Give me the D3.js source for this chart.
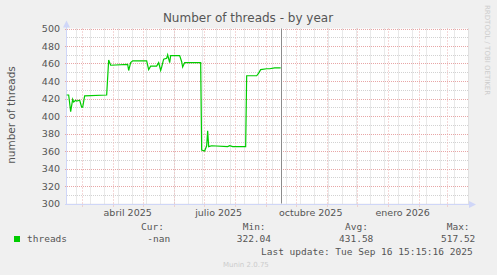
<!DOCTYPE html>
<html>
<head>
<meta charset="utf-8">
<script src="https://cdn.jsdelivr.net/npm/d3@7"></script>
<style>
	body { margin: 0; background: #f0f0f0; }
	text { font-family: "DejaVu Sans", sans-serif; fill: #555; }
	.mono { font-family: "DejaVu Sans Mono", monospace; }
</style>
</head>
<body>
<script>
// thread count samples (date, value)
var dates = [
	'2025-02-14', '2025-02-16', '2025-02-18', '2025-02-20', '2025-02-21', '2025-02-23',
	'2025-02-24', '2025-02-27', '2025-03-01', '2025-03-02', '2025-03-04', '2025-03-26',
	'2025-03-28', '2025-03-30', '2025-04-16', '2025-04-17', '2025-04-19', '2025-04-21',
	'2025-05-05', '2025-05-07', '2025-05-09', '2025-05-15', '2025-05-17', '2025-05-19',
	'2025-05-20', '2025-05-22', '2025-05-25', '2025-05-26', '2025-05-28', '2025-05-29',
	'2025-06-07', '2025-06-09', '2025-06-10', '2025-06-12', '2025-06-28', '2025-06-29',
	'2025-07-02', '2025-07-04', '2025-07-05', '2025-07-06', '2025-07-09', '2025-07-25',
	'2025-07-27', '2025-07-30', '2025-08-12', '2025-08-13', '2025-08-23', '2025-08-25',
	'2025-08-27', '2025-09-02', '2025-09-05', '2025-09-10', '2025-09-16'
]
var threads = [
	424, 424, 405, 419, 416, 418,
	417, 418, 410, 410, 423, 424,
	464, 458, 459, 452, 461, 463,
	463, 453, 457, 457, 461, 452,
	456, 465, 466, 470, 461, 469,
	469, 462, 456, 461, 461, 361,
	360, 366, 383, 365, 366, 365,
	366, 365, 365, 446, 446, 449,
	453, 454, 454, 455, 455
]

var yTicks = [300, 320, 340, 360, 380, 400, 420, 440, 460, 480, 500]
var monthLabels = ['abril 2025', 'julio 2025', 'octubre 2025', 'enero 2026']
var monthLabelDates = ['2025-04-16', '2025-07-16', '2025-10-16', '2026-01-16']

var legendHeads = ['Cur:', 'Min:', 'Avg:', 'Max:']
var legendValues = ['-nan', '322.04', '431.58', '517.52']
var lastUpdate = 'Last update: Tue Sep 16 15:15:16 2025'

var parse = d3.timeParse('%Y-%m-%d')
var data = dates.map((d, i) => ({date: parse(d), value: threads[i]}))

var width = 497,
	height = 275

var start = new Date(2025, 1, 14, 8),
	end = d3.timeDay.offset(start, 401),
	now = new Date(2025, 8, 16, 15, 15, 16)

var x = d3.scaleTime()
	.domain([start, end])
	.range([67, 468])

var y = d3.scaleLinear()
	.domain([300, 500])
	.range([203.5, 28.5])

var svg = d3.select('body').append('svg')
	.attr('width', width)
	.attr('height', height)

svg.append('rect')
	.attr('width', width)
	.attr('height', height)
	.attr('fill', '#f0f0f0')

// canvas
svg.append('rect')
	.attr('x', x.range()[0])
	.attr('y', y.range()[1])
	.attr('width', x.range()[1] - x.range()[0])
	.attr('height', y.range()[0] - y.range()[1])
	.attr('fill', 'white')

var px = v => Math.round(v) + 0.5

// minor grid
var minorX = d3.timeWeek.range(new Date(2025, 1, 23), end, 2)
svg.selectAll('.vminor')
	.data(minorX)
	.enter()
	.append('line')
		.attr('x1', d => px(x(d)))
		.attr('x2', d => px(x(d)))
		.attr('y1', y.range()[1])
		.attr('y2', y.range()[0])
		.attr('stroke', '#d2d2d2')
		.attr('stroke-dasharray', '1,1')

svg.selectAll('.hminor')
	.data(yTicks.slice(0, -1).map(d => d + 10))
	.enter()
	.append('line')
		.attr('x1', x.range()[0])
		.attr('x2', x.range()[1])
		.attr('y1', d => px(y(d)))
		.attr('y2', d => px(y(d)))
		.attr('stroke', '#d2d2d2')
		.attr('stroke-dasharray', '1,1')

// major grid
var majorX = d3.timeMonth.range(start, end)
svg.selectAll('.vmajor')
	.data(majorX)
	.enter()
	.append('line')
		.attr('x1', d => px(x(d)))
		.attr('x2', d => px(x(d)))
		.attr('y1', y.range()[1])
		.attr('y2', y.range()[0] + 3)
		.attr('stroke', '#ebb0b0')
		.attr('stroke-dasharray', '1,2')

svg.selectAll('.hmajor')
	.data(yTicks)
	.enter()
	.append('line')
		.attr('x1', x.range()[0] - 2)
		.attr('x2', x.range()[1])
		.attr('y1', d => px(y(d)))
		.attr('y2', d => px(y(d)))
		.attr('stroke', '#e8a6a6')
		.attr('stroke-dasharray', '1,1')

// axes + arrows
svg.append('line')
	.attr('x1', x.range()[0] - 0.5)
	.attr('x2', x.range()[0] - 0.5)
	.attr('y1', y.range()[1] - 2)
	.attr('y2', y.range()[0] + 1)
	.attr('stroke', '#cfd6f8')
svg.append('line')
	.attr('x1', x.range()[0] - 2)
	.attr('x2', x.range()[1] + 2)
	.attr('y1', px(y(300)))
	.attr('y2', px(y(300)))
	.attr('stroke', '#cfd6f8')
svg.append('path')
	.attr('d', 'M' + (x.range()[0] - 4) + ',' + (y.range()[1] - 1) + 'l3.5,-7l3.5,7z')
	.attr('fill', '#cfd6f8')
svg.append('path')
	.attr('d', 'M' + (x.range()[1] + 1) + ',' + (px(y(300)) - 3.5) + 'l7,3.5l-7,3.5z')
	.attr('fill', '#cfd6f8')

// y tick labels
svg.selectAll('.ylab')
	.data(yTicks)
	.enter()
	.append('text')
		.attr('x', 60)
		.attr('y', d => y(d) + 3.5)
		.attr('text-anchor', 'end')
		.style('font-size', '9.5px')
		.text(d => d)

// x tick labels
svg.selectAll('.xlab')
	.data(monthLabels)
	.enter()
	.append('text')
		.attr('x', (d, i) => x(parse(monthLabelDates[i])))
		.attr('y', 215.5)
		.attr('text-anchor', 'middle')
		.style('font-size', '9.5px')
		.text(d => d)

// series
var line = d3.line()
	.x(d => x(d.date))
	.y(d => y(d.value))

svg.append('path')
	.datum(data)
	.attr('d', line)
	.attr('fill', 'none')
	.attr('stroke', '#00cc00')
	.attr('stroke-width', 1.2)

// now marker
svg.append('line')
	.attr('x1', px(x(now)))
	.attr('x2', px(x(now)))
	.attr('y1', y.range()[1])
	.attr('y2', y.range()[0])
	.attr('stroke', '#8c8c8c')

// title and labels
svg.append('text')
	.attr('x', 248)
	.attr('y', 22)
	.attr('text-anchor', 'middle')
	.style('font-size', '12px')
	.text('Number of threads - by year')

svg.append('text')
	.attr('transform', 'translate(15,115) rotate(-90)')
	.attr('text-anchor', 'middle')
	.style('font-size', '10.5px')
	.text('number of threads')

svg.append('text')
	.attr('transform', 'translate(485,5) rotate(90)')
	.attr('text-anchor', 'start')
	.style('font-size', '7px')
	.style('fill', '#cccccc')
	.text('RRDTOOL / TOBI OETIKER')

// legend
svg.append('rect')
	.attr('x', 14)
	.attr('y', 236)
	.attr('width', 6)
	.attr('height', 6)
	.attr('fill', '#00cc00')

svg.append('text')
	.attr('class', 'mono')
	.attr('x', 27)
	.attr('y', 242)
	.style('font-size', '9.5px')
	.text('threads')

var headX = [141, 242.7, 345, 446.7]
var valX = [147.3, 236.7, 339, 441]

svg.selectAll('.lhead')
	.data(legendHeads)
	.enter()
	.append('text')
		.attr('class', 'mono')
		.attr('x', (d, i) => headX[i])
		.attr('y', 230)
		.style('font-size', '9.5px')
		.text(d => d)

svg.selectAll('.lval')
	.data(legendValues)
	.enter()
	.append('text')
		.attr('class', 'mono')
		.attr('x', (d, i) => valX[i])
		.attr('y', 242)
		.style('font-size', '9.5px')
		.text(d => d)

svg.append('text')
	.attr('class', 'mono')
	.attr('x', 261)
	.attr('y', 255)
	.style('font-size', '9.5px')
	.text(lastUpdate)

svg.append('text')
	.attr('x', 223)
	.attr('y', 267)
	.style('font-size', '7px')
	.style('fill', '#cccccc')
	.text('Munin 2.0.75')
</script>
</body>
</html>
